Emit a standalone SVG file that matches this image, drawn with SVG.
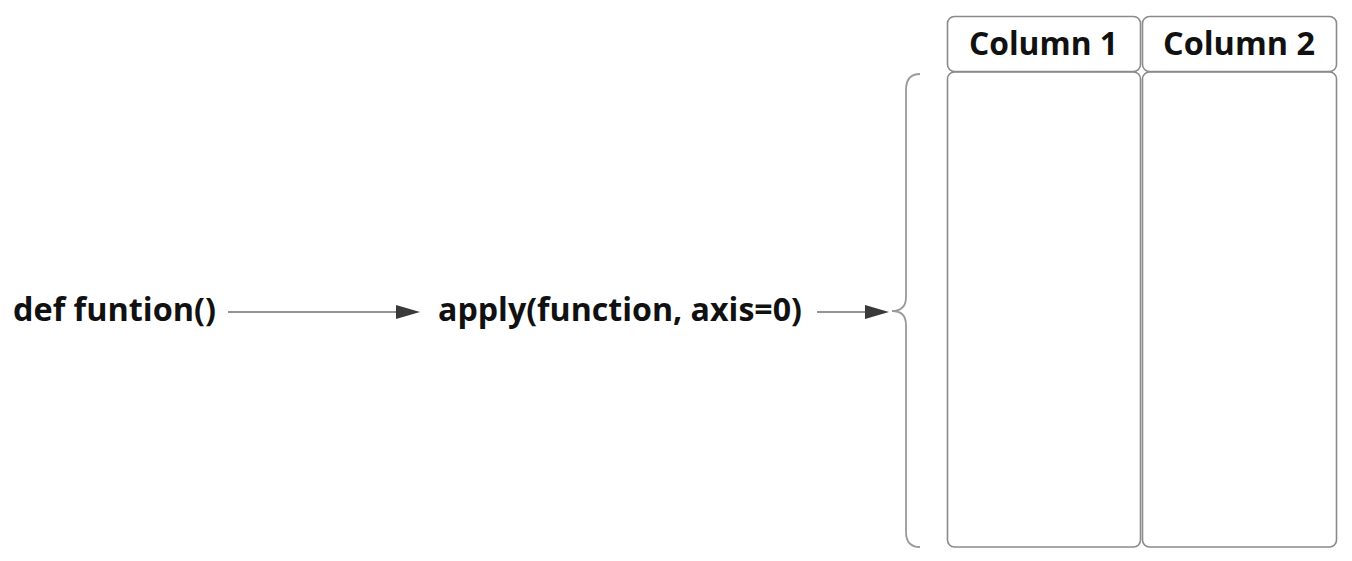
<svg xmlns="http://www.w3.org/2000/svg" width="1352" height="561" viewBox="0 0 1352 561">
<style>
.t{font-family:"Open Sans","Noto Sans","Liberation Sans",sans-serif;font-weight:700;font-size:32px;fill:#111}
.box{fill:#fff;stroke:#8a8a8a;stroke-width:1.6}
.ln{fill:none;stroke:#707070;stroke-width:1.6}
.br{fill:none;stroke:#9a9a9a;stroke-width:1.8}
</style>
<defs>
<marker id="ah" markerWidth="24" markerHeight="14" refX="0" refY="7" orient="auto" markerUnits="userSpaceOnUse">
<path d="M0,0 L24,7 L0,14 Z" fill="#3a3a3a"/>
</marker>
</defs>
<rect width="1352" height="561" fill="#fff"/>
<g id="node-def">
<text class="t" x="13" y="321" textLength="203" lengthAdjust="spacingAndGlyphs">def funtion()</text>
</g>
<g id="node-apply">
<text class="t" x="438" y="321" textLength="364" lengthAdjust="spacingAndGlyphs">apply(function, axis=0)</text>
</g>
<g id="node-col1">
<rect class="box" x="947.5" y="72" width="193" height="475" rx="7"/>
<rect class="box" x="947.5" y="16.5" width="193" height="55" rx="7"/>
<text class="t" x="969" y="55" textLength="149" lengthAdjust="spacingAndGlyphs">Column 1</text>
</g>
<g id="node-col2">
<rect class="box" x="1142.5" y="72" width="194" height="475" rx="7"/>
<rect class="box" x="1142.5" y="16.5" width="194" height="55" rx="7"/>
<text class="t" x="1163" y="55" textLength="152" lengthAdjust="spacingAndGlyphs">Column 2</text>
</g>
<g id="brace">
<path class="br" d="M920,74 Q906,74 906,90 L906,297 Q906,311 892,311 Q906,311 906,325 L906,532 Q906,547 920,547"/>
</g>
<g id="connectors">
<line class="ln" x1="228" y1="312" x2="396" y2="312" marker-end="url(#ah)"/>
<line class="ln" x1="817" y1="312" x2="865" y2="312" marker-end="url(#ah)"/>
</g>
</svg>
